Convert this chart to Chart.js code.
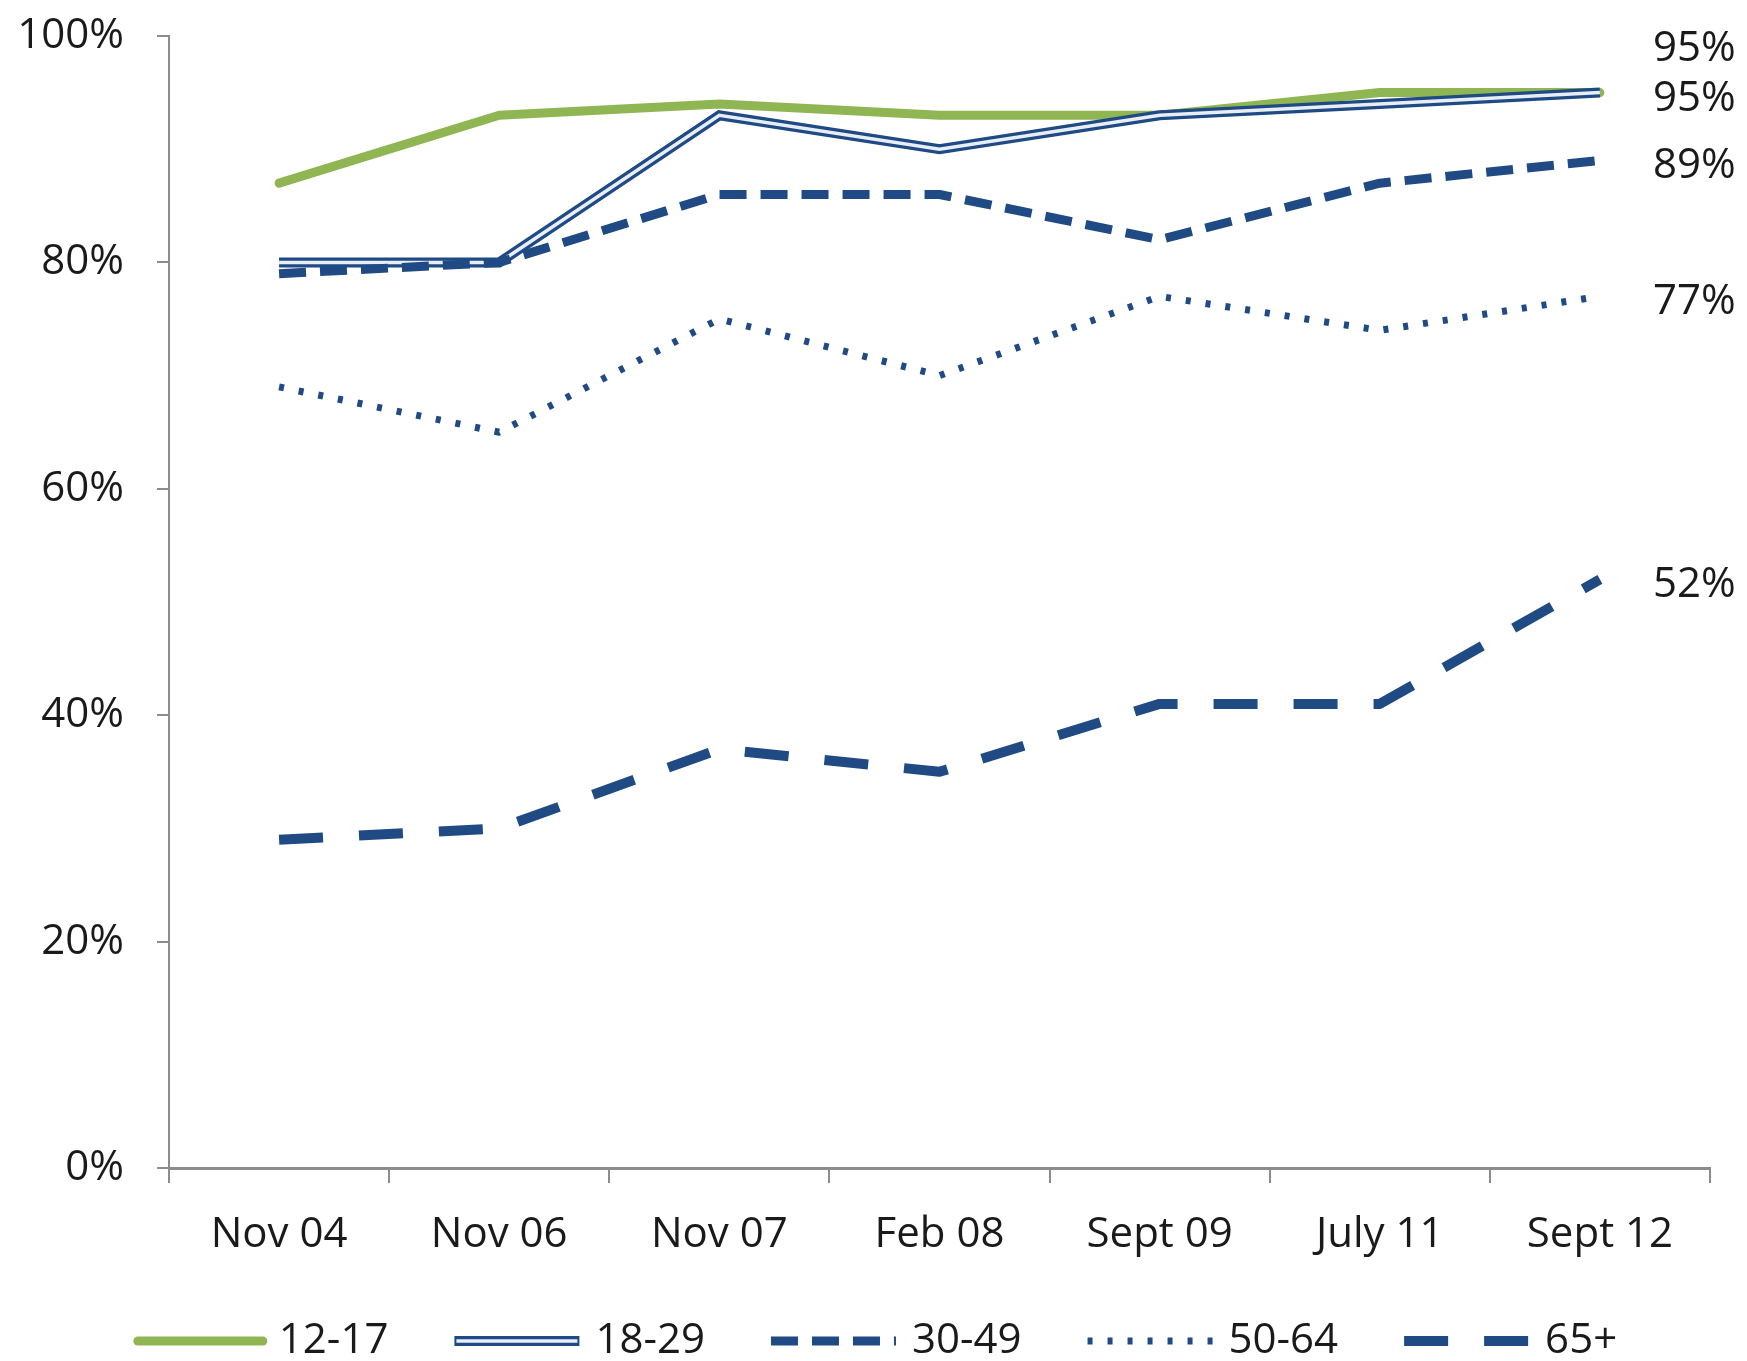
<!DOCTYPE html>
<html>
<head>
<meta charset="utf-8">
<script src="https://cdn.jsdelivr.net/npm/chart.js@4"></script>
<style>
  html, body { margin: 0; padding: 0; background: #ffffff; }
  #wrap { width: 1747px; height: 1361px; }
</style>
</head>
<body>
<div id="wrap"><canvas id="c" width="1747" height="1361"></canvas></div>
<script>
// ---- data ----
const categories = ['Nov 04', 'Nov 06', 'Nov 07', 'Feb 08', 'Sept 09', 'July 11', 'Sept 12'];
const seriesNames = ['12-17', '18-29', '30-49', '50-64', '65+'];
const s12to17 = [87, 93, 94, 93, 93, 95, 95];
const s18to29 = [80, 80, 93, 90, 93, 94, 95];
const s30to49 = [79, 80, 86, 86, 82, 87, 89];
const s50to64 = [69, 65, 75, 70, 77, 74, 77];
const s65plus = [29, 30, 37, 35, 41, 41, 52];
const yTickValues = [0, 20, 40, 60, 80, 100];

// ---- styles ----
const GREEN = '#8fb653';
const NAVY = '#1f4a84';
const INNER = '#e8eef6';
const AXIS = '#8c8c8c';
const TEXT = '#1a1a1a';
const FONT = "'Open Sans', 'Noto Sans', sans-serif";
const FSIZE = 42;

const datasets = [
  { label: seriesNames[0], data: s12to17, borderColor: GREEN, borderWidth: 9, order: 6,
    borderCapStyle: 'round', borderJoinStyle: 'round' },
  { label: seriesNames[1], data: s18to29, borderColor: NAVY, borderWidth: 10, order: 5,
    borderCapStyle: 'butt', borderJoinStyle: 'miter', innerColor: INNER, innerWidth: 3.5 },
  { label: seriesNames[1] + ' inner', data: s18to29, borderColor: INNER, borderWidth: 3.5, order: 4,
    borderJoinStyle: 'miter', helper: true },
  { label: seriesNames[2], data: s30to49, borderColor: NAVY, borderWidth: 9, order: 3,
    borderDash: [27, 14], borderCapStyle: 'butt', borderJoinStyle: 'round' },
  { label: seriesNames[3], data: s50to64, borderColor: NAVY, borderWidth: 7, order: 2,
    borderDash: [5, 15], borderCapStyle: 'butt', borderJoinStyle: 'round' },
  { label: seriesNames[4], data: s65plus, borderColor: NAVY, borderWidth: 10, order: 1,
    borderDash: [44, 36], borderCapStyle: 'butt', borderJoinStyle: 'round' }
];

// end-of-line value labels
const endLabels = {
  id: 'endLabels',
  afterDatasetsDraw(chart) {
    const ctx = chart.ctx;
    const items = [];
    chart.data.datasets.forEach((ds, i) => {
      if (ds.helper) return;
      const meta = chart.getDatasetMeta(i);
      const last = meta.data[meta.data.length - 1];
      items.push({ x: last.x, y: last.y, text: ds.data[ds.data.length - 1] + '%' });
    });
    items.sort((a, b) => a.y - b.y);
    for (let i = items.length - 2; i >= 0; i--) {
      if (items[i].y > items[i + 1].y - 50) items[i].y = items[i + 1].y - 50;
    }
    ctx.save();
    ctx.font = FSIZE + 'px ' + FONT;
    ctx.fillStyle = TEXT;
    ctx.textAlign = 'left';
    ctx.textBaseline = 'middle';
    items.forEach(it => ctx.fillText(it.text, it.x + 53, it.y + 6));
    ctx.restore();
  }
};

// bottom legend drawn with each series' own line style
const lineLegend = {
  id: 'lineLegend',
  afterDraw(chart) {
    const ctx = chart.ctx;
    const sample = 125, gap = 16, spacing = 66;
    const cy = 1341;
    ctx.save();
    ctx.font = FSIZE + 'px ' + FONT;
    const list = chart.data.datasets.filter(d => !d.helper);
    let total = 0;
    list.forEach((d, i) => {
      total += sample + gap + ctx.measureText(d.label).width + (i < list.length - 1 ? spacing : 0);
    });
    let x = (chart.width - total) / 2 + 4;
    list.forEach(d => {
      ctx.save();
      ctx.beginPath();
      ctx.moveTo(x, cy);
      ctx.lineTo(x + sample, cy);
      ctx.strokeStyle = d.borderColor;
      ctx.lineWidth = d.borderWidth;
      ctx.lineCap = d.borderCapStyle || 'butt';
      ctx.setLineDash(d.borderDash || []);
      ctx.stroke();
      if (d.innerColor) {
        ctx.beginPath();
        ctx.moveTo(x + 2, cy);
        ctx.lineTo(x + sample - 2, cy);
        ctx.strokeStyle = d.innerColor;
        ctx.lineWidth = d.innerWidth;
        ctx.stroke();
      }
      ctx.restore();
      x += sample + gap;
      ctx.fillStyle = TEXT;
      ctx.textAlign = 'left';
      ctx.textBaseline = 'middle';
      ctx.fillText(d.label, x, cy);
      x += ctx.measureText(d.label).width + spacing;
    });
    ctx.restore();
  }
};

new Chart(document.getElementById('c'), {
  type: 'line',
  data: { labels: categories, datasets: datasets },
  options: {
    responsive: false,
    animation: false,
    devicePixelRatio: 1,
    layout: { padding: { top: 36, right: 37, bottom: 93, left: 0 } },
    elements: { point: { radius: 0, hoverRadius: 0 }, line: { tension: 0, fill: false } },
    plugins: { legend: { display: false }, tooltip: { enabled: false } },
    scales: {
      x: {
        offset: true,
        grid: { offset: true, drawOnChartArea: false, drawTicks: true, tickLength: 15, color: AXIS, lineWidth: 2 },
        border: { display: true, color: AXIS, width: 3 },
        ticks: { color: TEXT, font: { family: FONT, size: FSIZE }, padding: 27, maxRotation: 0, autoSkip: false },
        afterFit: s => { s.height = 100; s.paddingLeft = 0; s.paddingRight = 0; }
      },
      y: {
        min: 0, max: 100,
        afterBuildTicks: s => { s.ticks = yTickValues.map(v => ({ value: v })); },
        grid: { drawOnChartArea: false, drawTicks: true, tickLength: 12, color: AXIS, lineWidth: 2 },
        border: { display: true, color: AXIS, width: 2 },
        ticks: { color: TEXT, font: { family: FONT, size: FSIZE }, padding: 33, callback: v => v + '%' },
        afterFit: s => { s.width = 169; s.paddingTop = 0; s.paddingBottom = 0; }
      }
    }
  },
  plugins: [endLabels, lineLegend]
});
</script>
</body>
</html>
